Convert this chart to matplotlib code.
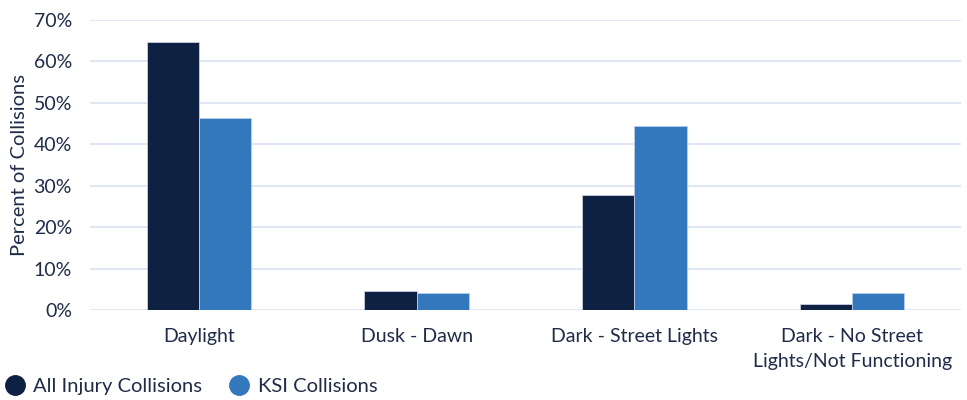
import matplotlib
matplotlib.use('Agg')
import matplotlib.pyplot as plt
from matplotlib.ticker import PercentFormatter
from matplotlib.lines import Line2D
import numpy as np

categories = ['Daylight', 'Dusk - Dawn', 'Dark - Street Lights',
              'Dark - No Street\nLights/Not Functioning']
all_injury = [64.7, 4.6, 27.8, 1.5]
ksi = [46.4, 4.2, 44.5, 4.0]
series_names = ['All Injury Collisions', 'KSI Collisions']
yticks = [0, 10, 20, 30, 40, 50, 60, 70]

navy = '#0e2142'
blue = '#3378bd'
grid = '#dce5f5'
text_color = '#1f2b48'

plt.rcParams['font.family'] = ['Lato', 'DejaVu Sans']

fig = plt.figure(figsize=(9.67, 4.0), dpi=100)
ax = fig.add_axes([90 / 967, 1 - 310 / 400, (961 - 90) / 967, 290 / 400])

x = np.arange(len(categories))
w = 0.24
ax.bar(x - w / 2, all_injury, w, color=navy, edgecolor='#c9d3e6', linewidth=0.6, zorder=3)
ax.bar(x + w / 2, ksi, w, color=blue, edgecolor='#b9cde8', linewidth=0.6, zorder=3)

ax.set_xlim(-0.5, len(categories) - 0.5)
ax.set_ylim(0, 70)
ax.set_yticks(yticks)
ax.yaxis.set_major_formatter(PercentFormatter(decimals=0))
ax.grid(axis='y', color=grid, linewidth=1.3, zorder=0)
ax.set_xticks(x)
ax.set_xticklabels(categories, fontsize=14, color=text_color, linespacing=1.6)
ax.tick_params(axis='y', labelsize=14, labelcolor=text_color, length=0, pad=13)
ax.tick_params(axis='x', length=0, pad=13)
for s in ax.spines.values():
    s.set_visible(False)
ax.set_ylabel('Percent of Collisions', fontsize=14.5, color=text_color, labelpad=4)

handles = [Line2D([], [], marker='o', linestyle='', markersize=14, color=c)
           for c in (navy, blue)]
fig.legend(handles, series_names, loc='center left', bbox_to_anchor=(0.0, 1 - 386 / 400),
           ncol=2, frameon=False, fontsize=14.5, handlelength=1.5, handletextpad=0.15,
           columnspacing=1.1, labelcolor=text_color, borderaxespad=0, borderpad=0)

fig.savefig('out.png', dpi=100)
